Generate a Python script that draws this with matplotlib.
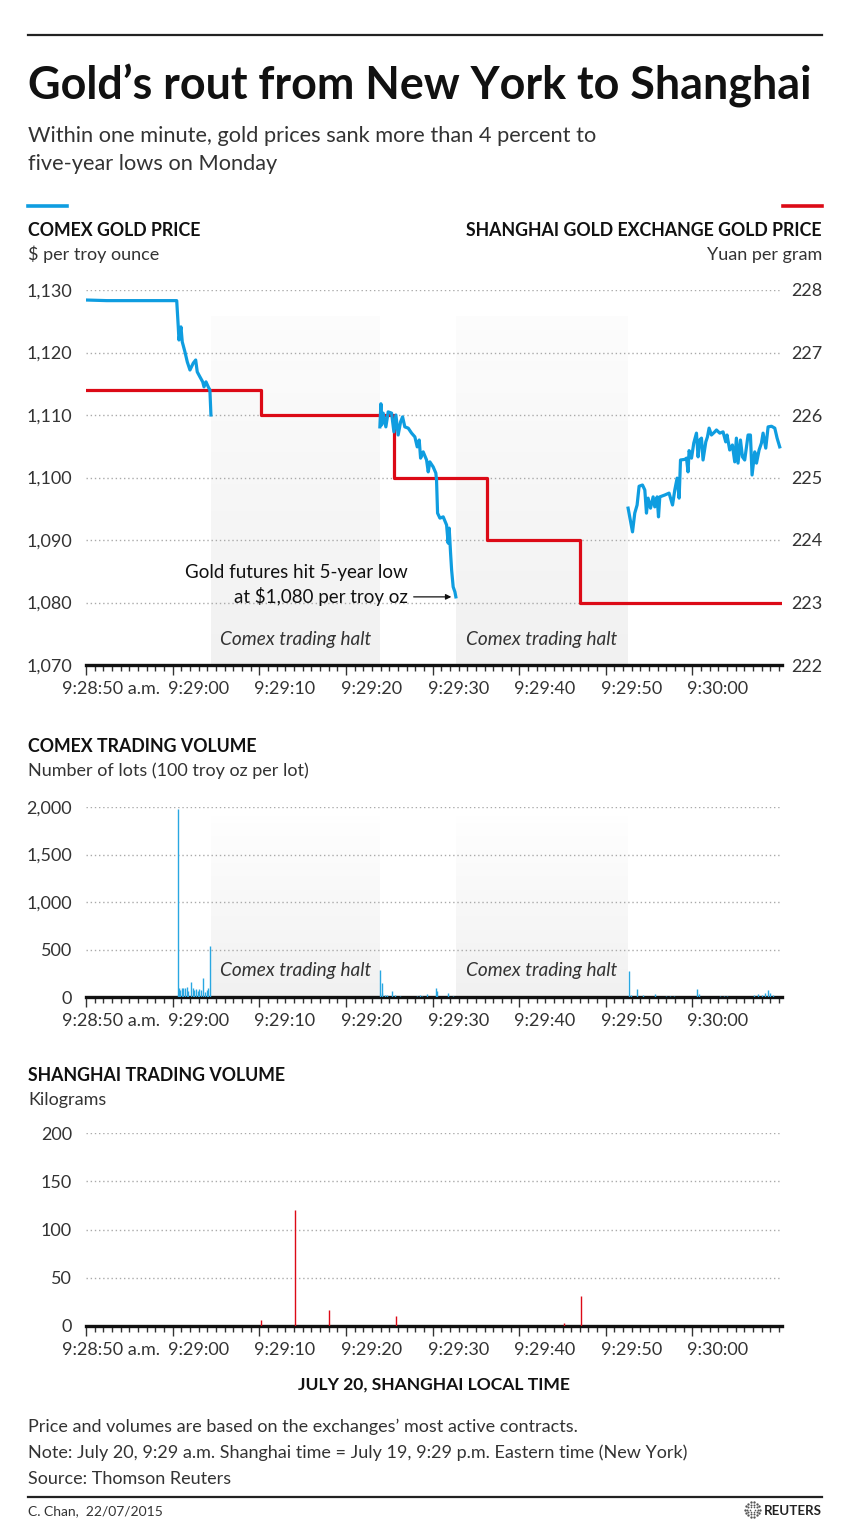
import numpy as np
import matplotlib
matplotlib.use("Agg")
import matplotlib.pyplot as plt
import matplotlib.transforms as mtransforms

plt.rcParams['font.family'] = ['Lato', 'DejaVu Sans']

# seconds after 9:28:50 (Shanghai time)
comex_t1 = [0, 2.4, 10.47, 10.65, 10.73, 10.96, 11.11, 11.42, 11.69, 12.0, 12.38, 12.66, 12.84,
            13.15, 13.47, 13.62, 13.85, 14.11, 14.3, 14.42]
comex_p1 = [1128.4, 1128.3, 1128.3, 1124.1, 1122.0, 1124.1, 1121.7, 1120.1, 1118.5, 1117.2, 1118.3,
            1118.8, 1116.9, 1116.1, 1115.3, 1114.5, 1115.3, 1114.5, 1114.0, 1110.0]
comex_t2 = [33.92, 34.04, 34.12, 34.30, 34.61, 34.88, 35.27, 35.54, 35.77, 36.03, 36.31, 36.54, 36.80,
            37.19, 37.58, 37.96, 38.23, 38.46, 38.62, 38.92, 39.31, 39.50, 39.69, 40.07, 40.38, 40.46,
            40.58, 40.85, 41.23, 41.62, 41.80, 41.92, 42.08, 42.20, 42.38, 42.58, 42.69]
comex_p2 = [1108.1, 1111.8, 1108.4, 1110.3, 1108.1, 1110.5, 1110.3, 1107.3, 1110.0, 1106.8, 1108.9,
            1109.7, 1108.1, 1107.9, 1107.1, 1106.5, 1104.9, 1106.0, 1103.1, 1104.1, 1102.8, 1100.9,
            1102.5, 1101.7, 1100.7, 1099.6, 1094.3, 1093.5, 1093.7, 1092.4, 1089.5, 1091.9, 1087.9,
            1085.2, 1082.5, 1081.7, 1080.9]
comex_t3 = [62.57, 63.08, 63.34, 63.61, 63.84, 64.23, 64.50, 64.69, 64.88, 65.16, 65.46, 65.65, 65.92,
            66.08, 66.23, 66.81, 67.30, 67.70, 67.96, 68.23, 68.46, 68.62, 69.12, 69.31, 69.49, 69.61,
            69.89, 70.15, 70.46, 70.65, 70.84, 71.04, 71.22, 71.54, 71.73, 71.92, 72.19, 72.57, 72.77,
            73.15, 73.53, 73.84, 73.99, 74.30, 74.61, 74.88, 75.07, 75.26, 75.54, 75.77, 76.03, 76.42,
            76.69, 76.88, 77.19, 77.39, 77.69, 77.96, 78.15, 78.46, 78.73, 79.12, 79.50, 79.77, 80.07]
comex_p3 = [1095.1, 1091.3, 1094.3, 1095.6, 1098.6, 1098.8, 1098.0, 1094.3, 1096.7, 1095.1, 1096.9,
            1095.3, 1096.9, 1093.7, 1096.9, 1097.2, 1097.5, 1095.6, 1098.0, 1099.9, 1096.7, 1102.8,
            1102.9, 1103.1, 1100.9, 1104.3, 1103.1, 1105.5, 1107.1, 1103.3, 1106.0, 1106.3, 1102.8,
            1105.7, 1106.5, 1107.9, 1106.8, 1107.3, 1107.6, 1107.1, 1107.3, 1105.7, 1106.8, 1104.4,
            1105.2, 1102.5, 1106.3, 1102.3, 1106.0, 1103.3, 1102.8, 1106.8, 1106.8, 1100.4, 1104.1,
            1102.3, 1104.4, 1105.5, 1107.1, 1104.7, 1108.1, 1108.2, 1107.9, 1106.3, 1104.9]

sge_t = [0, 20.16, 35.6, 46.3, 57.0, 80.3]
sge_p = [226.4, 226.0, 225.0, 224.0, 223.0, 223.0]

comex_vol_t = [10.58, 10.73, 10.85, 11.04, 11.23, 11.42, 11.62, 11.81, 12.12, 12.31, 12.50, 12.69,
               12.89, 13.08, 13.27, 13.54, 13.73, 13.92, 14.11, 14.31,
               33.96, 34.12, 34.19, 34.5, 34.69, 35.27, 35.65, 36.23, 38.15, 38.54, 38.8, 39.31,
               40.38, 40.54, 41.8, 42.38,
               62.7, 62.9, 63.6, 64.3, 65.65, 66.9, 67.4, 67.9, 70.5, 70.7, 73.2, 73.6, 74.0,
               77.1, 77.6, 78.0, 78.4, 78.7, 79.0, 79.3]
comex_vol = [1980, 90, 70, 90, 100, 90, 110, 60, 155, 90, 70, 80, 60, 85, 70, 195, 50, 70, 90, 535,
             284, 40, 150, 25, 20, 60, 20, 10, 15, 20, 15, 30,
             90, 60, 45, 10,
             270, 20, 80, 17, 28, 12, 15, 12, 88, 35, 12, 15, 10,
             20, 30, 25, 45, 70, 40, 20]

sge_vol_t = [20.2, 24.1, 28.05, 35.75, 55.2, 57.1]
sge_vol = [6, 120, 17, 10, 3, 31]

halts = [(14.4, 33.9), (42.7, 62.5)]
halt_label = "Comex trading halt"

tick_secs = [0, 10, 20, 30, 40, 50, 60, 70]
tick_labels = ["9:28:50 a.m.", "9:29:00", "9:29:10", "9:29:20", "9:29:30", "9:29:40", "9:29:50", "9:30:00"]

BLUE = '#0f9de0'
BLUE_BAR = '#29a7e1'
RED = '#dc0a16'
GREY = '#333333'
XMAX = 80.3

W, H = 850, 1524
fig = plt.figure(figsize=(W / 100, H / 100), dpi=100)


def fy(y):
    return 1 - y / H


def fx(x):
    return x / W


def make_ax(top, bottom, grid=True):
    ax = fig.add_axes([fx(86), fy(bottom), fx(781.7) - fx(86), (bottom - top) / H])
    ax.set_xlim(0, XMAX)
    for s in ['left', 'right', 'top']:
        ax.spines[s].set_visible(False)
    ax.spines['bottom'].set_linewidth(2.4)
    ax.spines['bottom'].set_color('#111111')
    ax.set_xticks(tick_secs)
    ax.set_xticks(np.arange(0, XMAX, 1), minor=True)
    ax.set_xticklabels(tick_labels, fontsize=13, color=GREY)
    ax.tick_params(axis='x', which='major', length=7.5, width=1, color='#333333', pad=4)
    ax.tick_params(axis='x', which='minor', length=4.3, width=1, color='#333333')
    ax.tick_params(axis='y', length=0, labelsize=13, labelcolor=GREY, pad=10)
    for i, lab in enumerate(ax.get_xticklabels()):
        lab.set_horizontalalignment('left')
        off = -24 if i == 0 else -5
        lab.set_transform(lab.get_transform() + mtransforms.ScaledTranslation(off / 100, 0, fig.dpi_scale_trans))
    if grid:
        ax.grid(axis='y', linestyle=(0, (1, 2)), color='#aaaaaa', linewidth=1)
    ax.set_axisbelow(True)
    return ax


def shade(ax, ytop, top_val=0.99):
    # light grey gradient, fading towards the top
    shades = np.linspace(top_val, 0.945, 100)
    img = np.ones((100, 1, 3)) * shades[:, None, None]
    y0 = ax.get_ylim()[0]
    for a, b in halts:
        ax.imshow(img, extent=[a, b, y0, ytop], aspect='auto', origin='upper', zorder=0.5)


# ---------- header ----------
fig.add_artist(plt.Line2D([fx(28), fx(822)], [fy(35), fy(35)], color='#222222', lw=1.6))
fig.text(fx(28), fy(100), "Gold\u2019s rout from New York to Shanghai", fontsize=32.3, fontweight='bold',
         color='#111111', va='baseline')
fig.text(fx(28), fy(142), "Within one minute, gold prices sank more than 4 percent to", fontsize=15.7,
         color=GREY, va='baseline')
fig.text(fx(28), fy(170), "five-year lows on Monday", fontsize=15.7, color=GREY, va='baseline')

fig.add_artist(plt.Line2D([fx(28), fx(67)], [fy(206), fy(206)], color=BLUE, lw=2.6))
fig.add_artist(plt.Line2D([fx(783), fx(822)], [fy(206), fy(206)], color=RED, lw=2.6))
fig.text(fx(28), fy(236), "COMEX GOLD PRICE", fontsize=12.8, fontweight='bold', color='#111111', va='baseline')
fig.text(fx(28), fy(260), "$ per troy ounce", fontsize=13, color=GREY, va='baseline')
fig.text(fx(822), fy(236), "SHANGHAI GOLD EXCHANGE GOLD PRICE", fontsize=12.8, fontweight='bold',
         color='#111111', va='baseline', ha='right')
fig.text(fx(822), fy(260), "Yuan per gram", fontsize=13, color=GREY, va='baseline', ha='right')

# ---------- price chart ----------
ax1 = make_ax(290, 665, grid=False)
ax1.set_ylim(1070, 1130)
ax1.set_yticks(range(1070, 1131, 10))
ax1.set_yticklabels([f"{v:,}" for v in range(1070, 1131, 10)])
ax1b = ax1.twinx()
ax1b.set_ylim(222, 228)
ax1b.set_yticks(range(222, 229))
for s in ['left', 'right', 'top', 'bottom']:
    ax1b.spines[s].set_visible(False)
ax1b.tick_params(axis='y', length=0, labelsize=13, labelcolor=GREY, pad=7)
ax1b.grid(axis='y', linestyle=(0, (1, 2)), color='#aaaaaa', linewidth=1, zorder=0)
ax1b.set_axisbelow(True)
shade(ax1b, 227.58)
ax1b.step(sge_t, sge_p, where='post', color=RED, lw=2.3, zorder=3)
ax1b.set_zorder(1)
ax1.set_zorder(2)
ax1.patch.set_visible(False)
for tt, pp in [(comex_t1, comex_p1), (comex_t2, comex_p2), (comex_t3, comex_p3)]:
    ax1.plot(tt, pp, color=BLUE, lw=2.3, zorder=4, solid_joinstyle='round')
for a, b in halts:
    ax1.text((a + b) / 2, 1074, halt_label, ha='center', va='center', fontsize=13.7, style='italic',
             color=GREY, zorder=5)
ax1.annotate("", xy=(comex_t2[-1] - 0.2, 1080.9), xytext=(37.5, 1080.9),
             arrowprops=dict(arrowstyle='-|>', color='#111111', lw=0.9, mutation_scale=8), zorder=6)
ax1.text(37.1, 1084.8, "Gold futures hit 5-year low", ha='right', va='center', fontsize=13.5, color='#111111')
ax1.text(37.1, 1080.9, "at $1,080 per troy oz", ha='right', va='center', fontsize=13.5, color='#111111')

# ---------- comex volume ----------
fig.text(fx(28), fy(752), "COMEX TRADING VOLUME", fontsize=12.8, fontweight='bold', color='#111111', va='baseline')
fig.text(fx(28), fy(776), "Number of lots (100 troy oz per lot)", fontsize=13, color=GREY, va='baseline')
ax2 = make_ax(807, 997)
ax2.set_ylim(0, 2000)
ax2.set_yticks(range(0, 2001, 500))
ax2.set_yticklabels([f"{v:,}" for v in range(0, 2001, 500)])
shade(ax2, 1900, top_val=0.998)
ax2.vlines(comex_vol_t, 0, comex_vol, color=BLUE_BAR, lw=1, zorder=3)
for a, b in halts:
    ax2.text((a + b) / 2, 280, halt_label, ha='center', va='center', fontsize=13.7, style='italic',
             color=GREY, zorder=5)

# ---------- shanghai volume ----------
fig.text(fx(28), fy(1081), "SHANGHAI TRADING VOLUME", fontsize=12.8, fontweight='bold', color='#111111', va='baseline')
fig.text(fx(28), fy(1105), "Kilograms", fontsize=13, color=GREY, va='baseline')
ax3 = make_ax(1133, 1326)
ax3.set_ylim(0, 200)
ax3.set_yticks(range(0, 201, 50))
ax3.vlines(sge_vol_t, 0, sge_vol, color=RED, lw=1, zorder=3)
fig.text(fx(433.9), fy(1390), "JULY 20, SHANGHAI LOCAL TIME", fontsize=12.6, fontweight='bold',
         color='#111111', va='baseline', ha='center')

# ---------- footer ----------
notes = ["Price and volumes are based on the exchanges\u2019 most active contracts.",
         "Note: July 20, 9:29 a.m. Shanghai time = July 19, 9:29 p.m. Eastern time (New York)",
         "Source: Thomson Reuters"]
for i, n in enumerate(notes):
    fig.text(fx(28), fy(1432 + 26 * i), n, fontsize=13, color=GREY, va='baseline')
fig.add_artist(plt.Line2D([fx(28), fx(822)], [fy(1497), fy(1497)], color='#222222', lw=1.6))
fig.text(fx(28), fy(1515), "C. Chan,  22/07/2015", fontsize=10, color=GREY, va='baseline')
fig.text(fx(822), fy(1515), "REUTERS", fontsize=9.6, fontweight='bold', color='#222222', va='baseline', ha='right')
logo = fig.add_axes([fx(744), fy(1518), fx(17), 17 / H])
logo.set_xlim(-1.1, 1.1)
logo.set_ylim(-1.1, 1.1)
logo.axis('off')
for r, n in [(0.35, 6), (0.65, 10), (0.95, 14)]:
    ang = np.linspace(0, 2 * np.pi, n, endpoint=False)
    logo.scatter(r * np.cos(ang), r * np.sin(ang), s=2.5 * r + 0.5, color='#555555', lw=0)

fig.savefig('out.png', dpi=100)
